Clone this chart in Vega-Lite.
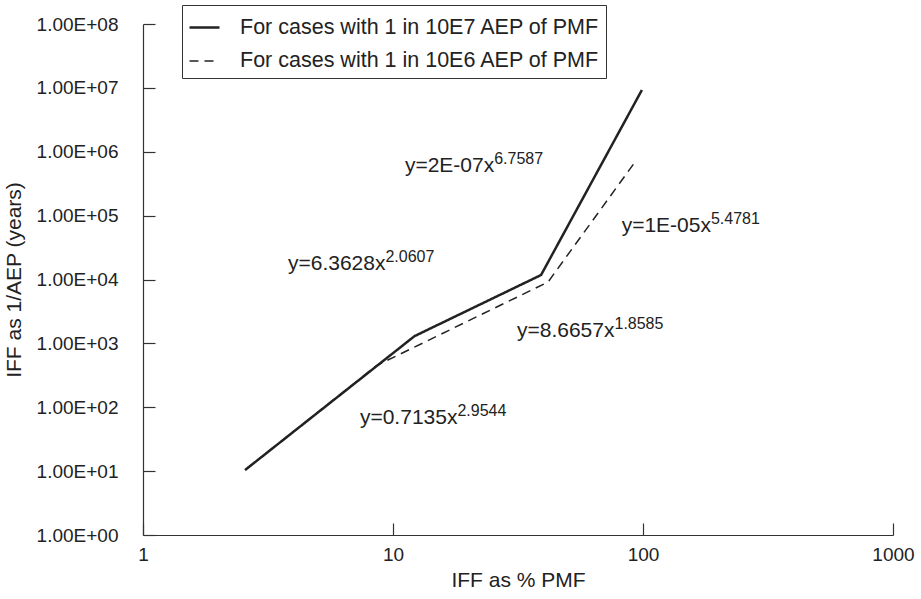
{
  "$schema": "https://vega.github.io/schema/vega-lite/v6.json",
  "width": 750,
  "height": 511,
  "autosize": "none",
  "padding": {"left": 143, "top": 24, "right": 28, "bottom": 64},
  "background": "white",
  "config": {
    "view": {"stroke": null},
    "font": "Liberation Sans",
    "axis": {"grid": false, "domainColor": "#333", "tickColor": "#333", "labelColor": "#222", "titleColor": "#222", "titleFontWeight": "normal", "labelFontSize": 19, "titleFontSize": 21, "tickSize": -12, "domainWidth": 1.2, "tickWidth": 1.2}
  },
  "layer": [
    {
      "data": {
        "values": [
          {"series": "For cases with 1 in 10E7 AEP of PMF", "i": 1, "pmf": 2.56, "iff": 10.4},
          {"series": "For cases with 1 in 10E7 AEP of PMF", "i": 2, "pmf": 12.2, "iff": 1300},
          {"series": "For cases with 1 in 10E7 AEP of PMF", "i": 3, "pmf": 39.1, "iff": 11750},
          {"series": "For cases with 1 in 10E7 AEP of PMF", "i": 4, "pmf": 99, "iff": 9270000},
          {"series": "For cases with 1 in 10E6 AEP of PMF", "i": 1, "pmf": 2.56, "iff": 10.4},
          {"series": "For cases with 1 in 10E6 AEP of PMF", "i": 2, "pmf": 8.6, "iff": 450},
          {"series": "For cases with 1 in 10E6 AEP of PMF", "i": 3, "pmf": 41.7, "iff": 9130},
          {"series": "For cases with 1 in 10E6 AEP of PMF", "i": 4, "pmf": 92.9, "iff": 690000}
        ]
      },
      "mark": {"type": "line", "color": "#222", "strokeCap": "butt", "clip": false},
      "encoding": {
        "x": {
          "field": "pmf", "type": "quantitative",
          "scale": {"type": "log", "domain": [1, 1000], "nice": false},
          "axis": {"values": [1, 10, 100, 1000], "format": "d", "labelPadding": 22, "title": "IFF as % PMF", "titlePadding": 5, "labelFlush": false}
        },
        "y": {
          "field": "iff", "type": "quantitative",
          "scale": {"type": "log", "domain": [1, 100000000], "nice": false},
          "axis": {"values": [1, 10, 100, 1000, 10000, 100000, 1000000, 10000000, 100000000], "labelExpr": "'1.00E+0' + round(log(datum.value)/LN10)", "labelPadding": 37, "title": "IFF as 1/AEP (years)", "titlePadding": 12, "labelFlush": false}
        },
        "order": {"field": "i", "type": "quantitative"},
        "strokeDash": {
          "field": "series", "type": "nominal",
          "scale": {"domain": ["For cases with 1 in 10E7 AEP of PMF", "For cases with 1 in 10E6 AEP of PMF"], "range": [[1, 0], [9, 6]]},
          "legend": {"title": null, "orient": "none", "legendX": 39, "legendY": -19, "strokeColor": "#333", "padding": 6, "symbolType": "stroke", "symbolSize": 900, "symbolStrokeWidth": 2, "symbolStrokeColor": "#222", "labelFontSize": 21.5, "labelLimit": 0, "labelColor": "#222", "labelOffset": 19, "rowPadding": 7, "fillColor": "white"}
        },
        "strokeWidth": {
          "field": "series", "type": "nominal",
          "scale": {"domain": ["For cases with 1 in 10E7 AEP of PMF", "For cases with 1 in 10E6 AEP of PMF"], "range": [2.5, 1.5]},
          "legend": null
        }
      }
    },
    {
      "data": {
        "values": [
          {"x": 25.4, "y": 482000, "base": "y=2E-07x", "exp": "6.7587"},
          {"x": 187, "y": 55400, "base": "y=1E-05x", "exp": "5.4781"},
          {"x": 9.33, "y": 14100, "base": "y=6.3628x", "exp": "2.0607"},
          {"x": 76.9, "y": 1259, "base": "y=8.6657x", "exp": "1.8585"},
          {"x": 18.1, "y": 54.7, "base": "y=0.7135x", "exp": "2.9544"}
        ]
      },
      "layer": [
        {
          "mark": {"type": "text", "align": "right", "baseline": "alphabetic", "fontSize": 21, "color": "#222"},
          "encoding": {
            "x": {"field": "x", "type": "quantitative"},
            "y": {"field": "y", "type": "quantitative"},
            "text": {"field": "base"}
          }
        },
        {
          "mark": {"type": "text", "align": "left", "baseline": "alphabetic", "fontSize": 16, "dy": -8, "color": "#222"},
          "encoding": {
            "x": {"field": "x", "type": "quantitative"},
            "y": {"field": "y", "type": "quantitative"},
            "text": {"field": "exp"}
          }
        }
      ]
    }
  ]
}
